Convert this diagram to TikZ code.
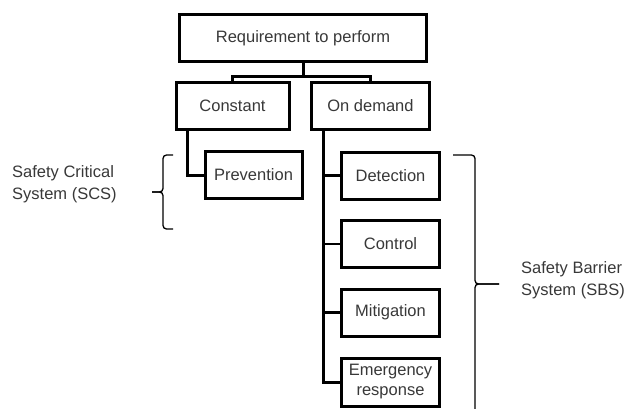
\documentclass[tikz,border=0pt]{standalone}
\usepackage{fontspec}
\setmainfont{Liberation Sans}
\begin{document}
\begin{tikzpicture}[x=1pt,y=-1pt,
  every node/.style={font=\fontsize{16.5}{22}\selectfont, text=black!78},
  box/.style={draw=black, line width=3pt, minimum height=47pt, inner sep=0pt, align=center},
  link/.style={draw=black, line width=3pt},
  bracket/.style={draw=black, line width=1.3pt, rounded corners=3.5pt}]
\useasboundingbox (0,0) rectangle (626,408);

% tree boxes
\node[box, minimum width=247pt] (req) at (303,38) {Requirement to perform};
\node[box, minimum width=113pt] (const) at (232.5,106) {Constant};
\node[box, minimum width=118pt] (ond) at (370.5,106) {On demand};
\node[box, minimum width=97pt] (prev) at (253.5,175) {Prevention};
\node[box, minimum width=98pt] (det) at (390.5,175.5) {Detection};
\node[box, minimum width=98pt] (ctrl) at (390.5,243.5) {Control};
\node[box, minimum width=98pt] (miti) at (390.5,312.5) {Mitigation};
\node[box, minimum width=98pt, minimum height=48pt] (emer) at (390.5,382) {Emergency\\[-2pt]response};

% connectors
\coordinate (split) at (303,76);
\draw[link] (req.south) -- (split) -| (const.north);
\draw[link] (split) -| (ond.north);
\coordinate (cstem) at (187,130);
\draw[link] (cstem) |- (prev.west);
\coordinate (ostem) at (323,130);
\draw[link] (ostem) |- (emer.west);
\draw[link] (ostem |- det.west) -- (det.west);
\draw[link, line width=2pt] (ostem |- ctrl.west) -- (ctrl.west);
\draw[link] (ostem |- miti.west) -- (miti.west);

% braces
\coordinate (scstip) at (152,192);
\draw[bracket] (173,155) -- (163,155) -- (163,192) -- (scstip);
\draw[bracket] (173,229) -- (163,229) -- (163,192) -- (scstip);
\coordinate (sbstip) at (499,284);
\draw[bracket] (453,155) -- (475,155) -- (475,284) -- (sbstip);
\draw[bracket] (475,412) -- (475,284) -- (sbstip);

% brace labels
\node[anchor=west, align=left, inner sep=0pt] (scs) at (12,184) {Safety Critical\\System (SCS)};
\node[anchor=west, align=left, inner sep=0pt] (sbs) at (521,280) {Safety Barrier\\System (SBS)};
\end{tikzpicture}
\end{document}
